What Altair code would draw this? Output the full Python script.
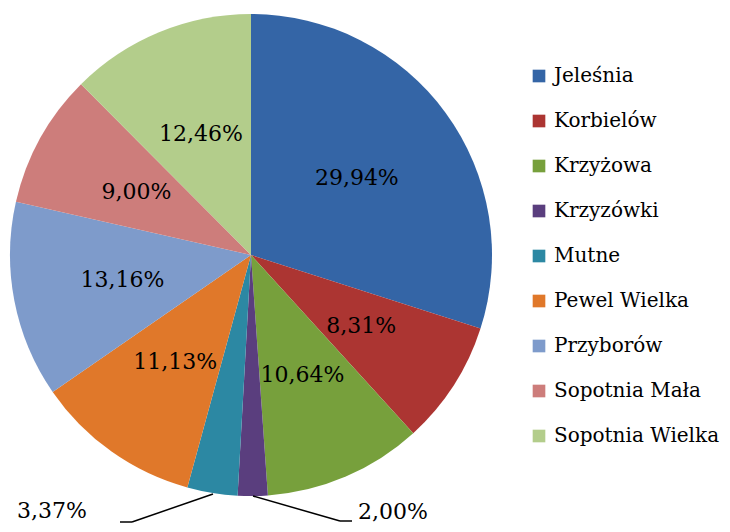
import altair as alt
import pandas as pd
import math

categories = ["Jeleśnia", "Korbielów", "Krzyżowa", "Krzyzówki", "Mutne",
              "Pewel Wielka", "Przyborów", "Sopotnia Mała", "Sopotnia Wielka"]
values = [29.94, 8.31, 10.64, 2.00, 3.37, 11.13, 13.16, 9.00, 12.46]
colors = ["#3465A6", "#AC3532", "#77A03C", "#5A3E7E", "#2C88A3",
          "#E0782A", "#7E9BCB", "#CD7D7B", "#B3CD8B"]

def fmt(v):
    return f"{v:.2f}".replace(".", ",") + "%"

total = sum(values)
cum = []
s = 0.0
for v in values:
    cum.append(s + v / 2)
    s += v

df = pd.DataFrame({
    "cat": categories,
    "val": values,
    "order": list(range(len(categories))),
    "mid": cum,
    "lab": [fmt(v) for v in values],
})

FONT = "DejaVu Serif"
R = 241
CX, CY = 243, 247
FS = 22

theta_mid = alt.Theta("mid:Q", stack=None,
                      scale=alt.Scale(domain=[0, total], range=[0, 2 * math.pi]))

color_enc = alt.Color(
    "cat:N",
    scale=alt.Scale(domain=categories, range=colors),
    sort=categories,
    legend=alt.Legend(
        title=None, orient="none", legendX=521, legendY=58,
        symbolType="square", symbolSize=160, symbolStrokeWidth=0,
        labelFont=FONT, labelFontSize=20, labelColor="#000000",
        rowPadding=25, labelOffset=5, labelLimit=300,
    ),
)

arcs = alt.Chart(df).mark_arc(outerRadius=R, stroke=None).encode(
    theta=alt.Theta("val:Q", stack=True),
    order=alt.Order("order:Q", sort="ascending"),
    color=color_enc,
    x=alt.value(CX), y=alt.value(CY),
)

def txt(filt, radius, dx=0, dy=0):
    return alt.Chart(df).transform_filter(filt).mark_text(
        radius=radius, dx=dx, dy=dy, font=FONT, fontSize=FS, color="#000000"
    ).encode(theta=theta_mid, text="lab:N", x=alt.value(CX), y=alt.value(CY))

inside = txt(alt.datum.val >= 5, 131)
left_lab = txt(alt.datum.cat == "Mutne", 261, dx=-157, dy=-2)
right_lab = txt(alt.datum.cat == "Krzyzówki", 261, dx=140, dy=-4)

def seg(x1, y1, x2, y2):
    return alt.Chart(df.head(1)).mark_rule(color="#000000", strokeWidth=1.5).encode(
        x=alt.value(x1), y=alt.value(y1), x2=alt.value(x2), y2=alt.value(y2))

lines = [
    seg(112, 514, 124, 514), seg(124, 514, 205, 486),
    seg(245, 488, 332, 513), seg(332, 513, 344, 513),
]

chart = alt.layer(arcs, inside, left_lab, right_lab, *lines).properties(
    width=714, height=516, padding=0, autosize=alt.AutoSizeParams(type="none"),
).configure_view(stroke=None)

chart.save("out.html", embed_options={"renderer": "svg", "actions": False})
